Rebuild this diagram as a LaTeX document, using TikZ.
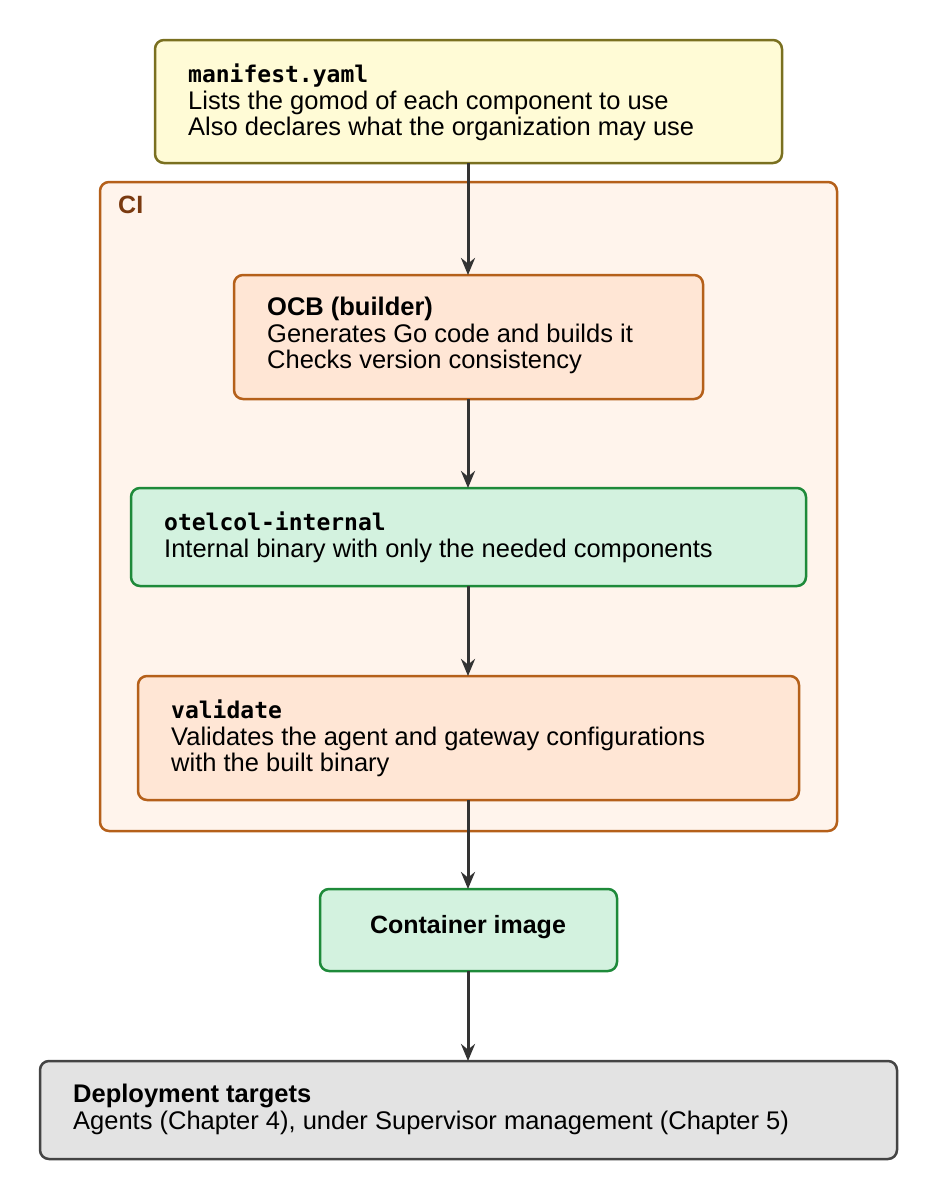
\documentclass[tikz,border=0pt]{standalone}
\usepackage{fontspec}
\setmainfont{Liberation Sans}
\setmonofont{DejaVu Sans Mono}
\usetikzlibrary{arrows.meta}
\definecolor{yfill}{HTML}{FFFBD6}\definecolor{ydraw}{HTML}{7A7020}
\definecolor{cifill}{HTML}{FFF4EC}\definecolor{odraw}{HTML}{B5601A}
\definecolor{ofill}{HTML}{FFE6D5}\definecolor{gfill}{HTML}{D3F2DF}
\definecolor{gdraw}{HTML}{1E8A3A}\definecolor{grfill}{HTML}{E3E3E3}
\definecolor{grdraw}{HTML}{444444}\definecolor{cilab}{HTML}{7A3A10}
\definecolor{arr}{HTML}{333333}
\newcommand{\mn}[1]{{\fontsize{23}{26.5}\selectfont\ttfamily\bfseries #1}}
\tikzset{
 box/.style={rounded corners=9pt,line width=2.5pt},
 txt/.style={anchor=north west,inner sep=0pt,align=left,font=\fontsize{25.5}{26.5}\selectfont},
 conn/.style={draw=arr,line width=3pt,-{Stealth[length=17pt,width=14pt]}}
}
\begin{document}
\begin{tikzpicture}[x=1pt,y=-1pt]
\useasboundingbox (0,0) rectangle (938,1200);
\draw[box,fill=yfill,draw=ydraw] (155,40) rectangle (782,163);
\coordinate (mb) at (468,163);
\draw[box,fill=cifill,draw=odraw] (100,182) rectangle (837,831);
\node[txt,text=cilab,font=\fontsize{25}{26}\selectfont\bfseries] (cil) at (118,196) {CI};
\draw[box,fill=ofill,draw=odraw] (234,275) rectangle (703,399);
\coordinate (ot) at (468,275); \coordinate (ob) at (468,399);
\draw[box,fill=gfill,draw=gdraw] (131,488) rectangle (806,586);
\coordinate (it) at (468,488); \coordinate (ib) at (468,586);
\draw[box,fill=ofill,draw=odraw] (138,676) rectangle (799,800);
\coordinate (vt) at (468,676); \coordinate (vb) at (468,800);
\draw[box,fill=gfill,draw=gdraw] (320,889) rectangle (617,971);
\coordinate (ct) at (468,889); \coordinate (cb) at (468,971);
\draw[box,fill=grfill,draw=grdraw] (40,1061) rectangle (897,1159);
\coordinate (dt) at (468,1061);

\node[txt] (m) at (188,64) {\mn{manifest.yaml}\\Lists the gomod of each component to use\\Also declares what the organization may use};
\node[txt] (o) at (267,297) {\textbf{OCB (builder)}\\Generates Go code and builds it\\Checks version consistency};
\node[txt] (i) at (164,512) {\mn{otelcol-internal}\\Internal binary with only the needed components};
\node[txt] (v) at (171,700) {\mn{validate}\\Validates the agent and gateway configurations\\with the built binary};
\node[font=\fontsize{25}{26}\selectfont\bfseries,inner sep=0pt] (c) at (468,927) {Container image};
\node[txt] (d) at (73,1084) {\textbf{Deployment targets}\\Agents (Chapter 4), under Supervisor management (Chapter 5)};

\draw[conn] (mb) -- (ot);
\draw[conn] (ob) -- (it);
\draw[conn] (ib) -- (vt);
\draw[conn] (vb) -- (ct);
\draw[conn] (cb) -- (dt);
\end{tikzpicture}
\end{document}
